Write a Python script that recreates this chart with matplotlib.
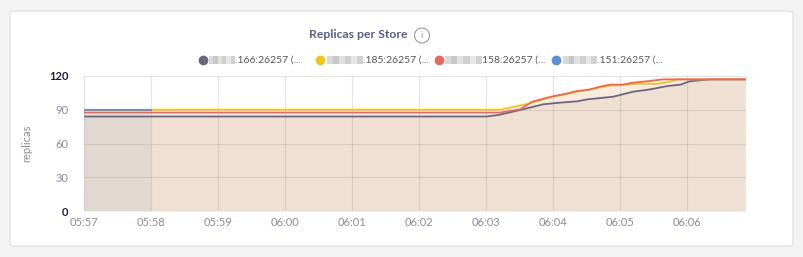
import matplotlib.pyplot as plt
from matplotlib.patches import FancyBboxPatch, Ellipse, Rectangle
from matplotlib.lines import Line2D

plt.rcParams['font.family'] = ['Lato', 'DejaVu Sans']

# time in minutes after 05:57, replica counts
t_166 = [0.0, 6.01, 6.18, 6.51, 6.85, 7.10, 7.36, 7.52, 7.90, 8.19, 8.45, 8.70, 8.90, 9.04, 9.34, 9.87]
v_166 = [84, 84, 85.3, 89.8, 94.8, 96.3, 97.5, 99.3, 101.6, 106, 108.1, 111, 112.3, 115.3, 117, 117]

t_185 = [0.0, 6.21, 6.66, 6.96, 7.45, 7.85, 8.25, 8.55, 8.75, 8.85, 9.87]
v_185 = [90, 90, 95.7, 101, 107, 111.4, 113, 113, 115, 117, 117]

t_158 = [0.0, 6.21, 6.51, 6.69, 7.00, 7.18, 7.36, 7.52, 7.70, 7.85, 8.04, 8.19, 8.45, 8.64, 9.87]
v_158 = [87.5, 87.5, 90.4, 97.2, 102, 104, 106.7, 107.5, 110.5, 112.3, 112.3, 114, 115.6, 117, 117]

t_151 = [0.0, 1.0]
v_151 = [90, 90]

x_ticks = list(range(10))
x_labels = ["05:57", "05:58", "05:59", "06:00", "06:01", "06:02", "06:03", "06:04", "06:05", "06:06"]
y_ticks = [0, 30, 60, 90, 120]

series = [
    (t_166, v_166, '#6a6680', '.166:26257 (...'),
    (t_185, v_185, '#f0c419', '.185:26257 (...'),
    (t_158, v_158, '#e8675f', '158:26257 (...'),
    (t_151, v_151, '#5b8fd0', '.151:26257 (...'),
]

W, H = 804, 257
fig = plt.figure(figsize=(W / 100, H / 100), dpi=100)
fig.patch.set_facecolor('#f3f3f3')

# white card behind everything
card = FancyBboxPatch((10 / W, 11 / H), 783 / W, 235 / H,
                      boxstyle='round,pad=0,rounding_size=0.008',
                      transform=fig.transFigure, facecolor='white',
                      edgecolor='#e2e2e2', lw=1, zorder=-10)
fig.patches.append(card)

ax = fig.add_axes([84 / W, 1 - 211 / H, 662 / W, 135 / H])
ax.set_facecolor('none')

for t, v, c, _ in series:
    ax.fill_between(t, v, 0, color=c, alpha=0.09, lw=0, zorder=1)
for t, v, c, _ in series:
    ax.plot(t, v, color=c, lw=1.3, zorder=2)

ax.set_xlim(0, 9.88)
ax.set_ylim(0, 120)
ax.set_xticks(x_ticks)
ax.set_xticklabels(x_labels)
ax.set_yticks(y_ticks)
ax.set_yticklabels([str(v) for v in y_ticks])
ax.tick_params(length=0, labelsize=8, colors='#8a8a9e', pad=4)
ax.tick_params(axis='y', pad=11)
for lab in ax.get_yticklabels():
    if lab.get_text() in ('0', '120'):
        lab.set_color('#1e1e38')
        lab.set_fontweight('bold')
for s in ax.spines.values():
    s.set_visible(False)
ax.set_axisbelow('line')
ax.grid(True, color='#808080', alpha=0.2, lw=0.8)
ax.set_ylabel('replicas', color='#8a8a9e', fontsize=8, labelpad=12)

# title and info icon
fig.text(358 / W, 1 - 35 / H, 'Replicas per Store', ha='center', va='center',
         fontsize=8.8, fontweight='bold', color='#5c5c84')
fig.patches.append(Ellipse((422 / W, 1 - 35.5 / H), 15 / W, 15 / H, transform=fig.transFigure,
                           facecolor='none', edgecolor='#9a9a9a', lw=0.8))
fig.text(422 / W, 1 - 35.5 / H, 'i', ha='center', va='center', fontsize=7, color='#9a9a9a')

# legend with masked IP prefixes
dot_x = [203, 320, 439, 556]
blur = [(209, 235), (327, 363), (445, 482), (563, 597)]
text_x = [235, 363, 482, 597]
ly = 1 - 60 / H
for (t, v, c, name), dx, (b0, b1), tx in zip(series, dot_x, blur, text_x):
    fig.add_artist(Line2D([dx / W], [ly], marker='o', ms=6, color=c, mec=c,
                          transform=fig.transFigure))
    shades = ['#d8d8d8', '#c8c8c8', '#e0e0e0', '#cfcfcf', '#e6e6e6', '#d2d2d2']
    step = (b1 - b0) / len(shades)
    for k, sh in enumerate(shades):
        fig.patches.append(Rectangle(((b0 + k * step) / W, ly - 4 / H), step / W, 8 / H,
                                     transform=fig.transFigure, facecolor=sh, lw=0))
    fig.text(tx / W, ly, name, ha='left', va='center', fontsize=7.5, color='#555555')

fig.savefig('out.png', dpi=100)
